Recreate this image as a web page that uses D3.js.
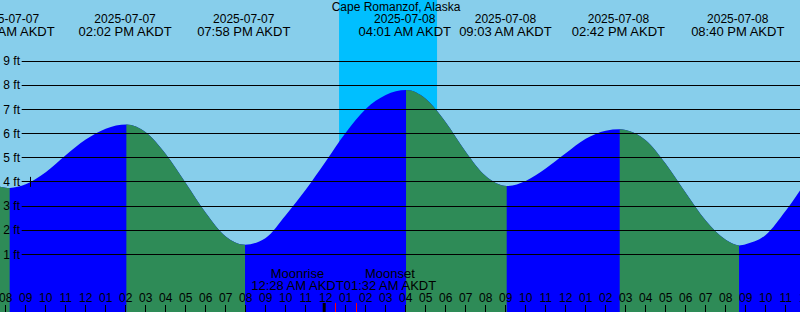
<!DOCTYPE html>
<html>
<head>
<meta charset="utf-8">
<script src="https://cdn.jsdelivr.net/npm/d3@7"></script>
<style>
  body { margin: 0; }
  svg { display: block; font-family: "Liberation Sans", Arial, sans-serif; }
</style>
</head>
<body>
<div id="tideChart"></div>
<script>
// Hours are counted from 2025-07-07 00:00 AKDT
const extremeHours = [8.2, 14.033, 19.967, 28.017, 33.05, 38.7, 44.667];
const extremeFeet = [3.75, 6.37, 1.4, 7.8, 3.83, 6.18, 1.37];
const extremeKinds = ['L', 'H', 'L', 'H', 'L', 'H', 'L'];
const extremeDates = ['2025-07-07', '2025-07-07', '2025-07-07', '2025-07-08', '2025-07-08', '2025-07-08', '2025-07-08'];
const extremeTimes = ['08:12 AM AKDT', '02:02 PM AKDT', '07:58 PM AKDT', '04:01 AM AKDT', '09:03 AM AKDT', '02:42 PM AKDT', '08:40 PM AKDT'];

// Hourly water levels
const hourlyHours = [7, 8, 9, 10, 11, 12, 13, 14, 15, 16, 17, 18, 19, 20, 21, 22, 23, 24, 25, 26, 27, 28,
  29, 30, 31, 32, 33, 34, 35, 36, 37, 38, 39, 40, 41, 42, 43, 44, 45, 46, 47, 48];
const hourlyFeet = [3.95, 3.76, 3.9, 4.4, 5.1, 5.75, 6.2, 6.37, 6.05, 5.15, 3.95, 2.72, 1.74, 1.4, 1.68, 2.62, 3.67, 4.84, 6.03, 7.02, 7.6, 7.8,
  7.44, 6.47, 5.25, 4.24, 3.84, 4.04, 4.55, 5.18, 5.78, 6.12, 6.15, 5.72, 4.75, 3.55, 2.4, 1.6, 1.42, 1.8, 2.8, 4.0];

const feetTicks = [1, 2, 3, 4, 5, 6, 7, 8, 9];
const hourTicks = d3.range(8, 49);

const sunsetHour = 24.667;
const sunriseHour = 29.567;

const moonHours = [24.467, 25.533];
const moonNames = ['Moonrise', 'Moonset'];
const moonTimes = ['12:28 AM AKDT', '01:32 AM AKDT'];

const nowHour = 9.22;
const nowFeet = 4;

const width = 800;
const height = 312;

const svg = d3
  .select('#tideChart')
  .append('svg')
  .attr('width', width)
  .attr('height', height);

const x = d3.scaleLinear().domain([8, 48]).range([5.7, 805.7]);
const y = d3.scaleLinear().domain([0, 9]).range([278.5, 61.06]);

// Background and night band
svg.append('rect').attr('width', width).attr('height', height).attr('fill', '#87CEEB');
svg
  .append('rect')
  .attr('x', x(sunsetHour))
  .attr('width', x(sunriseHour) - x(sunsetHour))
  .attr('height', height)
  .attr('fill', '#00BFFF');

// Merge hourly readings with the extremes
const points = hourlyHours
  .map((h, i) => ({ h: h, v: hourlyFeet[i] }))
  .filter((p) => !extremeHours.some((e) => Math.abs(e - p.h) < 0.1))
  .concat(extremeHours.map((h, i) => ({ h: h, v: extremeFeet[i] })))
  .sort((a, b) => a.h - b.h);

const area = d3
  .area()
  .curve(d3.curveMonotoneX)
  .x((d) => x(d.h))
  .y0(height)
  .y1((d) => y(d.v));

// Falling (ebb) stretches: from each high to the next low
const falling = [];
if (extremeKinds[0] === 'L') falling.push([x.domain()[0] - 2, extremeHours[0]]);
extremeKinds.forEach((k, i) => {
  if (k === 'H') falling.push([extremeHours[i], i + 1 < extremeHours.length ? extremeHours[i + 1] : 60]);
});

svg
  .append('clipPath')
  .attr('id', 'fallClip')
  .selectAll('rect')
  .data(falling)
  .enter()
  .append('rect')
  .attr('x', (d) => x(d[0]))
  .attr('width', (d) => x(d[1]) - x(d[0]))
  .attr('y', 0)
  .attr('height', height);

svg.append('path').datum(points).attr('d', area).attr('fill', '#0000FF');
svg
  .append('path')
  .datum(points)
  .attr('d', area)
  .attr('fill', '#2E8B57')
  .attr('clip-path', 'url(#fallClip)');

// Horizontal grid lines and feet labels
svg
  .selectAll('.grid')
  .data(feetTicks)
  .enter()
  .append('line')
  .attr('class', 'grid')
  .attr('x1', 21.7)
  .attr('x2', width)
  .attr('y1', (d) => Math.floor(y(d)) + 0.5)
  .attr('y2', (d) => Math.floor(y(d)) + 0.5)
  .attr('stroke', '#000')
  .attr('stroke-width', 1);

svg
  .selectAll('.ftLabel')
  .data(feetTicks)
  .enter()
  .append('text')
  .attr('class', 'ftLabel')
  .attr('x', 20)
  .attr('y', (d) => y(d))
  .attr('dy', '0.35em')
  .attr('text-anchor', 'end')
  .style('font-size', '12px')
  .text((d) => d + ' ft');

// Small marker on the 4 ft line
svg
  .append('line')
  .attr('x1', Math.floor(x(nowHour)) + 0.5)
  .attr('x2', Math.floor(x(nowHour)) + 0.5)
  .attr('y1', y(nowFeet) - 5)
  .attr('y2', y(nowFeet) + 5)
  .attr('stroke', '#000');

// Hour axis along the bottom
const fmtHour = (h) => String(h % 12 === 0 ? 12 : h % 12).padStart(2, '0');

svg
  .selectAll('.hourTick')
  .data(hourTicks)
  .enter()
  .append('line')
  .attr('class', 'hourTick')
  .attr('x1', (d) => (d === 24 ? x(d) - 1.5 : Math.floor(x(d)) + 0.5))
  .attr('x2', (d) => (d === 24 ? x(d) - 1.5 : Math.floor(x(d)) + 0.5))
  .attr('y1', (d) => (d === 24 ? 303 : 305))
  .attr('y2', height)
  .attr('stroke', '#000')
  .attr('stroke-width', (d) => (d === 24 ? 3 : 1));

svg
  .selectAll('.hourLabel')
  .data(hourTicks)
  .enter()
  .append('text')
  .attr('class', 'hourLabel')
  .attr('x', (d) => x(d))
  .attr('y', 301.5)
  .attr('text-anchor', 'middle')
  .style('font-size', '12px')
  .text(fmtHour);

// Moonrise / moonset ticks and labels
svg
  .selectAll('.moonTick')
  .data(moonHours)
  .enter()
  .append('line')
  .attr('class', 'moonTick')
  .attr('x1', (d) => Math.floor(x(d)) + 0.5)
  .attr('x2', (d) => Math.floor(x(d)) + 0.5)
  .attr('y1', 303)
  .attr('y2', height)
  .attr('stroke', '#FF0000');

const moonMid = (x(moonHours[0]) + x(moonHours[1])) / 2 - 2;
moonHours.forEach((h, i) => {
  const g = svg.append('g');
  const t = g
    .append('text')
    .attr('y', 290)
    .attr('text-anchor', 'middle')
    .style('font-size', '13px')
    .text(moonTimes[i]);
  const w = t.node().getComputedTextLength();
  const cx = i === 0 ? moonMid - w / 2 : moonMid + w / 2;
  t.attr('x', cx);
  g.append('text')
    .attr('x', cx)
    .attr('y', 278)
    .attr('text-anchor', 'middle')
    .style('font-size', '13px')
    .text(moonNames[i]);
});

// High / low labels at the top
svg
  .selectAll('.dateLabel')
  .data(extremeHours)
  .enter()
  .append('text')
  .attr('class', 'dateLabel')
  .attr('x', (d) => x(d) - 1.3)
  .attr('y', 23.3)
  .attr('text-anchor', 'middle')
  .style('font-size', '12px')
  .text((d, i) => extremeDates[i]);

svg
  .selectAll('.timeLabel')
  .data(extremeHours)
  .enter()
  .append('text')
  .attr('class', 'timeLabel')
  .attr('x', (d) => x(d) - 1.3)
  .attr('y', 36)
  .attr('text-anchor', 'middle')
  .style('font-size', '13px')
  .text((d, i) => extremeTimes[i]);

// Title
svg
  .append('text')
  .attr('x', 396)
  .attr('y', 11)
  .attr('text-anchor', 'middle')
  .style('font-size', '12px')
  .text('Cape Romanzof, Alaska');
</script>
</body>
</html>
